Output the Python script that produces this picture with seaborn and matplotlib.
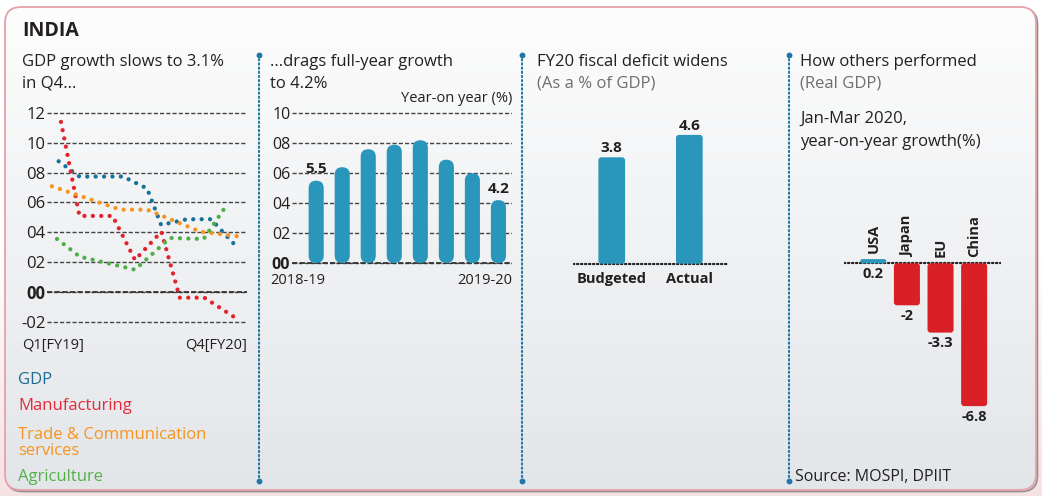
import numpy as np
import pandas as pd
import matplotlib
matplotlib.use("Agg")
import matplotlib.pyplot as plt
import seaborn as sns
from matplotlib.patches import FancyBboxPatch
from matplotlib.colors import LinearSegmentedColormap

# ---------------- data ----------------
# Panel 1: quarterly growth (x in quarters from Q1 FY19)
gdp_q = [0.0, 0.89, 2.76, 3.79, 4.39, 5.5, 6.53, 7.59]
gdp_v = [8.75, 7.73, 7.73, 6.93, 4.5, 4.88, 4.88, 3.1]
mfg_q = [0.1, 0.89, 2.31, 3.27, 4.4, 5.19, 6.24, 7.5]
mfg_v = [11.38, 5.1, 5.1, 2.16, 4.05, -0.36, -0.36, -1.63]
trade_q = [-0.29, 2.64, 3.79, 6.07, 7.9]
trade_v = [7.08, 5.52, 5.52, 4.05, 3.7]
agri_q = [-0.07, 0.9, 3.27, 4.77, 6.21, 7.24]
agri_v = [3.56, 2.38, 1.51, 3.63, 3.56, 5.92]
series_names = ["GDP", "Manufacturing", "Trade & Communication\nservices", "Agriculture"]
series_colors = ["#16709c", "#e2232c", "#f7941d", "#4fae4a"]
legend_colors = ["#1d6b93", "#e42a3a", "#f7941d", "#55b04a"]
quarter_labels = ["Q1[FY19]", "Q4[FY20]"]
line_ticks = [-2, 0, 2, 4, 6, 8, 10, 12]
line_tick_labels = ["-02", "00", "02", "04", "06", "08", "10", "12"]

# Panel 2: full-year growth
annual_growth = [5.5, 6.4, 7.6, 7.9, 8.2, 6.9, 6.0, 4.2]
annual_end_labels = ["2018-19", "2019-20"]
bar_ticks = [0, 2, 4, 6, 8, 10]
bar_tick_labels = ["00", "02", "04", "06", "08", "10"]

# Panel 3: fiscal deficit
deficit_cats = ["Budgeted", "Actual"]
deficit_vals = [3.8, 4.6]

# Panel 4: other economies
country_cats = ["USA", "Japan", "EU", "China"]
country_vals = [0.2, -2.0, -3.3, -6.8]

# ---------------- style ----------------
sns.set_style("white")
plt.rcParams["font.family"] = ["Open Sans", "DejaVu Sans"]
DARK = "#231f20"
GREY = "#6d6e71"
BLUE_BAR = "#2b96bc"
RED_BAR = "#d92027"
SEP = "#1f77a8"

W, H = 1042, 496
fig = plt.figure(figsize=(W / 100, H / 100), dpi=100)


def add_ax(l, t, r, b):
    ax = fig.add_axes([l / W, 1 - b / H, (r - l) / W, (b - t) / H])
    ax.set_facecolor("none")
    return ax


# background axes in pixel coordinates
bg = fig.add_axes([0, 0, 1, 1])
bg.set_xlim(0, W)
bg.set_ylim(H, 0)
bg.axis("off")
outer = np.linspace(0, 1, 256)[:, None]
cm_out = LinearSegmentedColormap.from_list("o", ["#ffffff", "#ffffff", "#f6e2e2"])
bg.imshow(outer, extent=(0, W, H, 0), cmap=cm_out, aspect="auto", zorder=0)
shadow = FancyBboxPatch((6.5, 8.5), 1031, 483, boxstyle="round,pad=0,rounding_size=16",
                        facecolor="none", edgecolor="#8f8f8f", lw=1.2, zorder=1)
bg.add_patch(shadow)
frame = FancyBboxPatch((5, 7), 1031, 483, boxstyle="round,pad=0,rounding_size=16",
                       facecolor="none", edgecolor="#e6a0a8", lw=1.3, zorder=3)
bg.add_patch(frame)
cm_in = LinearSegmentedColormap.from_list("i", ["#fdfdfd", "#e3e6e9"])
im = bg.imshow(outer, extent=(5, 1036, 490, 7), cmap=cm_in, aspect="auto", zorder=2)
im.set_clip_path(frame)

# separators
for sx in [259, 522, 789]:
    bg.plot([sx, sx], [55, 481], color=SEP, lw=1.5, ls=(0, (0.6, 1.4)),
            dash_capstyle="round", zorder=4)
    bg.plot([sx, sx], [55, 481], ls="none", marker="o", ms=3.2, color=SEP, zorder=4)

# texts
bg.text(22, 31, "INDIA", fontsize=14, fontweight="bold", color=DARK, va="center", zorder=5)
TS = 12
for x, lines in [(22, [("GDP growth slows to 3.1%", DARK), ("in Q4...", DARK)]),
                 (270, [("...drags full-year growth", DARK), ("to 4.2%", DARK)]),
                 (537, [("FY20 fiscal deficit widens", DARK), ("(As a % of GDP)", GREY)]),
                 (800, [("How others performed", DARK), ("(Real GDP)", GREY)])]:
    for i, (txt, c) in enumerate(lines):
        bg.text(x, 62 + 22 * i, txt, fontsize=TS, color=c, va="center", zorder=5)
bg.text(800, 119, "Jan-Mar 2020,", fontsize=TS, color=DARK, va="center", zorder=5)
bg.text(800, 142, "year-on-year growth(%)", fontsize=TS, color=DARK, va="center", zorder=5)
bg.text(512, 98, "Year-on year (%)", fontsize=10.5, color=DARK, va="center", ha="right", zorder=5)

legend_y = [380, 406, 443, 477]
for name, c, y in zip(series_names, legend_colors, legend_y):
    bg.text(18, y, name, fontsize=12, color=c, va="center", linespacing=1.0, zorder=5)
bg.text(795, 477, "Source: MOSPI, DPIIT", fontsize=11.5, color=DARK, va="center", zorder=5)

bg.text(22, 346, quarter_labels[0], fontsize=10.5, color=DARK, va="center", zorder=5)
bg.text(247, 346, quarter_labels[1], fontsize=10.5, color=DARK, va="center", ha="right", zorder=5)
bg.text(270, 281, annual_end_labels[0], fontsize=10.5, color=DARK, va="center", zorder=5)
bg.text(512, 281, annual_end_labels[1], fontsize=10.5, color=DARK, va="center", ha="right", zorder=5)


def style_yaxis(ax, ticks, labels, size):
    ax.set_yticks(ticks)
    ax.set_yticklabels(labels)
    ax.tick_params(axis="y", length=0, pad=1, labelsize=size, labelcolor=DARK)
    for t in ax.get_yticklabels():
        if t.get_text() == "00":
            t.set_fontweight("bold")
    ax.set_xticks([])
    ax.grid(axis="y", color="#444444", lw=1.0, ls=(0, (3, 1.5)))
    ax.grid(axis="x", visible=False)
    ax.axhline(0, color="#333333", lw=1.3, ls=(0, (3, 1.2)), zorder=1)
    ax.set_axisbelow(True)
    sns.despine(ax=ax, left=True, bottom=True)
    ax.set_xlabel("")
    ax.set_ylabel("")


def round_bars(ax, radius_px):
    pos = ax.get_position()
    x0, x1 = ax.get_xlim()
    y0, y1 = ax.get_ylim()
    xpp = (x1 - x0) / (pos.width * W)
    ypp = (y1 - y0) / (pos.height * H)
    aspect = ypp / xpp
    for p in list(ax.patches):
        x, y, w, h = p.get_x(), p.get_y(), p.get_width(), p.get_height()
        if h < 0:
            y, h = y + h, -h
        r_px = min(radius_px, (w / xpp) / 2, (h / ypp) / 2)
        fb = FancyBboxPatch((x, y), w, h,
                            boxstyle=f"round,pad=0,rounding_size={r_px * xpp}",
                            mutation_aspect=aspect, facecolor=p.get_facecolor(),
                            edgecolor="none", zorder=3)
        p.remove()
        ax.add_patch(fb)


# ---------------- panel 1: lines ----------------
ax1 = add_ax(47, 105, 247, 330)
rows = []
for name, qs, vs in zip(series_names, [gdp_q, mfg_q, trade_q, agri_q],
                        [gdp_v, mfg_v, trade_v, agri_v]):
    for q, v in zip(qs, vs):
        rows.append({"quarter": q, "growth": v, "series": name})
df_lines = pd.DataFrame(rows)
sns.lineplot(data=df_lines, x="quarter", y="growth", hue="series",
             palette=dict(zip(series_names, series_colors)), hue_order=series_names,
             sort=False, estimator=None, legend=False, lw=3.1, ax=ax1)
for ln in ax1.lines:
    ln.set_linestyle((0, (0.001, 1.95)))
    ln.set_dash_capstyle("round")
    ln.set_zorder(3)
ax1.set_xlim(-0.5, 8.07)
ax1.set_ylim(-2.52, 12.51)
style_yaxis(ax1, line_ticks, line_tick_labels, 12)

# ---------------- panel 2: annual bars ----------------
ax2 = add_ax(291.7, 105, 511.7, 268)
sns.barplot(x=list(range(len(annual_growth))), y=annual_growth, color=BLUE_BAR,
            width=0.58, saturation=1, ax=ax2)
ax2.set_xlim(-0.94, 7.51)
ax2.set_ylim(-0.334, 10.554)
style_yaxis(ax2, bar_ticks, bar_tick_labels, 11.5)
round_bars(ax2, 7.5)
for i in [0, len(annual_growth) - 1]:
    ax2.annotate(f"{annual_growth[i]}", (i, annual_growth[i]), xytext=(0, 3),
                 textcoords="offset points", ha="center", va="bottom",
                 fontsize=11, fontweight="bold", color=DARK)

# ---------------- panel 3: deficit ----------------
ax3 = add_ax(572.7, 105, 729.3, 268)
sns.barplot(x=deficit_cats, y=deficit_vals, color=BLUE_BAR, width=0.344,
            saturation=1, ax=ax3)
ax3.set_xlim(-0.503, 1.515)
ax3.set_ylim(-0.154, 5.668)
ax3.set_yticks([])
ax3.tick_params(axis="x", length=0, pad=3, labelsize=10.5, labelcolor=DARK)
for t in ax3.get_xticklabels():
    t.set_fontweight("bold")
ax3.axhline(0, color="#222222", lw=1.6, ls=(0, (0.6, 1.2)), dash_capstyle="round", zorder=1)
sns.despine(ax=ax3, left=True, bottom=True)
ax3.set_xlabel("")
ax3.set_ylabel("")
round_bars(ax3, 3)
for i, v in enumerate(deficit_vals):
    ax3.annotate(f"{v}", (i, v), xytext=(0, 1.5), textcoords="offset points",
                 ha="center", va="bottom", fontsize=11, fontweight="bold", color=DARK)

# ---------------- panel 4: countries ----------------
ax4 = add_ax(844, 105, 1000.7, 440)
sns.barplot(x=country_cats, y=country_vals, hue=country_cats,
            palette=[BLUE_BAR if v > 0 else RED_BAR for v in country_vals],
            width=0.774, saturation=1, legend=False, ax=ax4)
ax4.set_xlim(-0.872, 3.79)
ax4.set_ylim(-8.414, 7.538)
ax4.set_xticks([])
ax4.set_yticks([])
ax4.axhline(0, color="#222222", lw=1.6, ls=(0, (0.6, 1.2)), dash_capstyle="round", zorder=1)
sns.despine(ax=ax4, left=True, bottom=True)
ax4.set_xlabel("")
ax4.set_ylabel("")
round_bars(ax4, 3)
for i, (c, v) in enumerate(zip(country_cats, country_vals)):
    ax4.annotate(f"{v:g}", (i, min(v, 0)), xytext=(0, -2.5), textcoords="offset points",
                 ha="center", va="top", fontsize=10.5, fontweight="bold", color=DARK)
    ax4.annotate(c, (i, max(v, 0)), xytext=(0, 4.5), textcoords="offset points",
                 ha="center", va="bottom", rotation=90, fontsize=10.5,
                 fontweight="bold", color=DARK)

fig.savefig("out.png", dpi=100)
